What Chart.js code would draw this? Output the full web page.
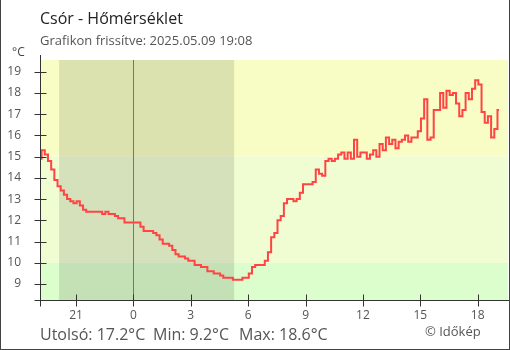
<!DOCTYPE html>
<html lang="hu">
<head>
<meta charset="utf-8">
<title>Csór - Hőmérséklet</title>
<script src="https://cdn.jsdelivr.net/npm/chart.js@4.4.1/dist/chart.umd.min.js"></script>
<style>
  body { margin: 0; background: #fff; font-family: "Open Sans", sans-serif; }
  #wrap { position: relative; width: 510px; height: 350px; overflow: hidden; }
  #chart { position: absolute; left: 0; top: 0; }
  #frame {
    position: absolute; left: 0; top: 0; width: 510px; height: 350px;
    box-sizing: border-box; border: 1px solid #444; border-top: none;
    pointer-events: none;
  }
  .txt { position: absolute; white-space: nowrap; line-height: normal; }
  #title { left: 40px; top: 7px; font-size: 16px; color: #222; }
  #subtitle { left: 40px; top: 31px; font-size: 13px; color: #555; }
  #unit { left: 12px; top: 43px; font-size: 12px; color: #444; }
  .stat { top: 323px; font-size: 16px; color: #555; }
  #copy { left: 425px; top: 322px; font-size: 13px; color: #555; }
</style>
</head>
<body>
<div id="wrap">
  <canvas id="chart" width="510" height="350"></canvas>
  <div class="txt" id="title">Csór - Hőmérséklet</div>
  <div class="txt" id="subtitle">Grafikon frissítve: 2025.05.09 19:08</div>
  <div class="txt" id="unit">°C</div>
  <div class="txt stat" id="lastTemp" style="left:40px"></div>
  <div class="txt stat" id="minTemp" style="left:153px"></div>
  <div class="txt stat" id="maxTemp" style="left:239px"></div>
  <div class="txt" id="copy">© Időkép</div>
  <div id="frame"></div>
</div>
<script>
// 10 perces mérések, előző nap 19:07-től (órák éjfélhez képest)
const startHour = -(4 + 53 / 60);
const stepHours = 10 / 60;
const temps = [
  14.9, 15.3, 15.1, 14.8, 14.4, 13.9, 13.6, 13.4, 13.2, 13.0,
  12.9, 12.8, 12.9, 12.7, 12.5, 12.4, 12.4, 12.4, 12.4, 12.4,
  12.3, 12.4, 12.3, 12.3, 12.2, 12.1, 12.1, 11.9, 11.9, 11.9,
  11.9, 11.9, 11.7, 11.5, 11.5, 11.5, 11.4, 11.3, 11.1, 10.9,
  10.9, 10.8, 10.6, 10.4, 10.3, 10.3, 10.2, 10.1, 10.1, 9.9,
  9.9, 9.8, 9.8, 9.6, 9.6, 9.5, 9.5, 9.4, 9.3, 9.3,
  9.3, 9.2, 9.2, 9.2, 9.3, 9.3, 9.5, 9.8, 9.9, 9.9,
  9.9, 10.1, 10.5, 11.2, 11.4, 12.0, 12.2, 12.8, 13.0, 13.0,
  12.9, 13.0, 13.3, 13.7, 13.7, 13.7, 13.8, 14.4, 14.2, 14.1,
  14.8, 14.9, 14.8, 14.9, 15.1, 15.2, 14.9, 15.2, 14.9, 15.8,
  15.0, 15.2, 15.2, 14.9, 15.1, 15.3, 15.0, 15.6, 15.3, 15.9,
  15.6, 15.8, 15.4, 15.7, 15.8, 16.0, 15.7, 15.9, 15.9, 16.2,
  16.8, 17.7, 15.8, 15.9, 17.2, 17.2, 18.0, 17.3, 18.1, 17.9,
  18.0, 17.5, 16.9, 17.2, 18.0, 17.7, 18.2, 18.6, 18.4, 17.1,
  16.6, 16.9, 15.9, 16.3, 17.2
];

const xTicks = [-3, 0, 3, 6, 9, 12, 15, 18];
const yTicks = [9, 10, 11, 12, 13, 14, 15, 16, 17, 18, 19];
const sunset = -(3 + 53 / 60);   // 20:07
const sunrise = 5 + 16 / 60;     // 05:16
const bandLimits = [10, 15];
const bandColors = ["#dcfdcc", "#f0fdd2", "#f7fdc5"];

const axisColor = "#333";
const points = temps.map((t, i) => ({ x: startHour + i * stepHours, y: t }));

// háttérsávok, éjszaka, éjfél vonala
const backdrop = {
  id: "backdrop",
  beforeDatasetsDraw(chart) {
    const { ctx, chartArea: a, scales } = chart;
    const y = scales.y, x = scales.x;
    const y10 = y.getPixelForValue(bandLimits[0]);
    const y15 = y.getPixelForValue(bandLimits[1]);
    ctx.save();
    ctx.fillStyle = bandColors[2];
    ctx.fillRect(a.left, a.top, a.width, y15 - a.top);
    ctx.fillStyle = bandColors[1];
    ctx.fillRect(a.left, y15, a.width, y10 - y15);
    ctx.fillStyle = bandColors[0];
    ctx.fillRect(a.left, y10, a.width, a.bottom - y10);

    const xs = x.getPixelForValue(sunset);
    const xr = x.getPixelForValue(sunrise);
    ctx.fillStyle = "rgba(0,0,0,0.11)";
    ctx.fillRect(xs, a.top, xr - xs, a.height);

    const xm = Math.round(x.getPixelForValue(0)) + 0.5;
    ctx.strokeStyle = "#3b86c2";
    ctx.lineWidth = 1;
    ctx.beginPath();
    ctx.moveTo(xm, a.top);
    ctx.lineTo(xm, a.bottom);
    ctx.stroke();
    ctx.restore();
  },
  afterDraw(chart) {
    const { ctx, chartArea: a, scales } = chart;
    ctx.save();
    ctx.strokeStyle = axisColor;
    ctx.lineWidth = 1;
    ctx.beginPath();
    const ax = Math.round(a.left) + 0.5;
    const ay = Math.round(a.bottom) + 0.5;
    ctx.moveTo(ax, a.top - 5);
    ctx.lineTo(ax, ay + 6);
    ctx.moveTo(ax - 6, ay);
    ctx.lineTo(510, ay);
    yTicks.forEach((v) => {
      const py = Math.round(scales.y.getPixelForValue(v)) + 0.5;
      ctx.moveTo(ax - 6, py);
      ctx.lineTo(ax + 6, py);
    });
    xTicks.forEach((v) => {
      const px = Math.round(scales.x.getPixelForValue(v)) + 0.5;
      ctx.moveTo(px, ay - 6);
      ctx.lineTo(px, ay + 6);
    });
    ctx.stroke();
    ctx.restore();
  },
};

const tickFont = { family: "'Open Sans', sans-serif", size: 12 };

new Chart(document.getElementById("chart"), {
  type: "line",
  data: {
    datasets: [
      {
        data: points,
        borderColor: "#ff4444",
        borderWidth: 2,
        pointRadius: 0,
        stepped: "middle",
        fill: false,
      },
    ],
  },
  options: {
    responsive: false,
    animation: false,
    layout: { padding: { left: 0, top: 60, right: 2, bottom: 0 } },
    plugins: { legend: { display: false }, tooltip: { enabled: false } },
    scales: {
      x: {
        type: "linear",
        min: startHour,
        max: 19 + 35 / 60,
        afterBuildTicks: (scale) => {
          scale.ticks = xTicks.map((v) => ({ value: v }));
        },
        afterFit: (scale) => {
          scale.height = 50;
        },
        grid: { display: true, drawOnChartArea: false, color: "transparent", tickLength: 6 },
        border: { display: false },
        ticks: {
          font: tickFont,
          color: "#555",
          padding: 2,
          maxRotation: 0,
          autoSkip: false,
          callback: (v) => String(((v % 24) + 24) % 24),
        },
      },
      y: {
        min: 8.25,
        max: 19.55,
        afterBuildTicks: (scale) => {
          scale.ticks = yTicks.map((v) => ({ value: v }));
        },
        afterFit: (scale) => {
          scale.width = 40;
        },
        grid: { display: true, drawOnChartArea: false, color: "transparent", tickLength: 6 },
        border: { display: false },
        ticks: { font: tickFont, color: "#555", padding: 13 },
      },
    },
  },
  plugins: [backdrop],
});

const fmt = (v) => v.toFixed(1) + "°C";
document.getElementById("lastTemp").textContent = "Utolsó: " + fmt(temps[temps.length - 1]);
document.getElementById("minTemp").textContent = "Min: " + fmt(Math.min(...temps));
document.getElementById("maxTemp").textContent = "Max: " + fmt(Math.max(...temps));
</script>
</body>
</html>
